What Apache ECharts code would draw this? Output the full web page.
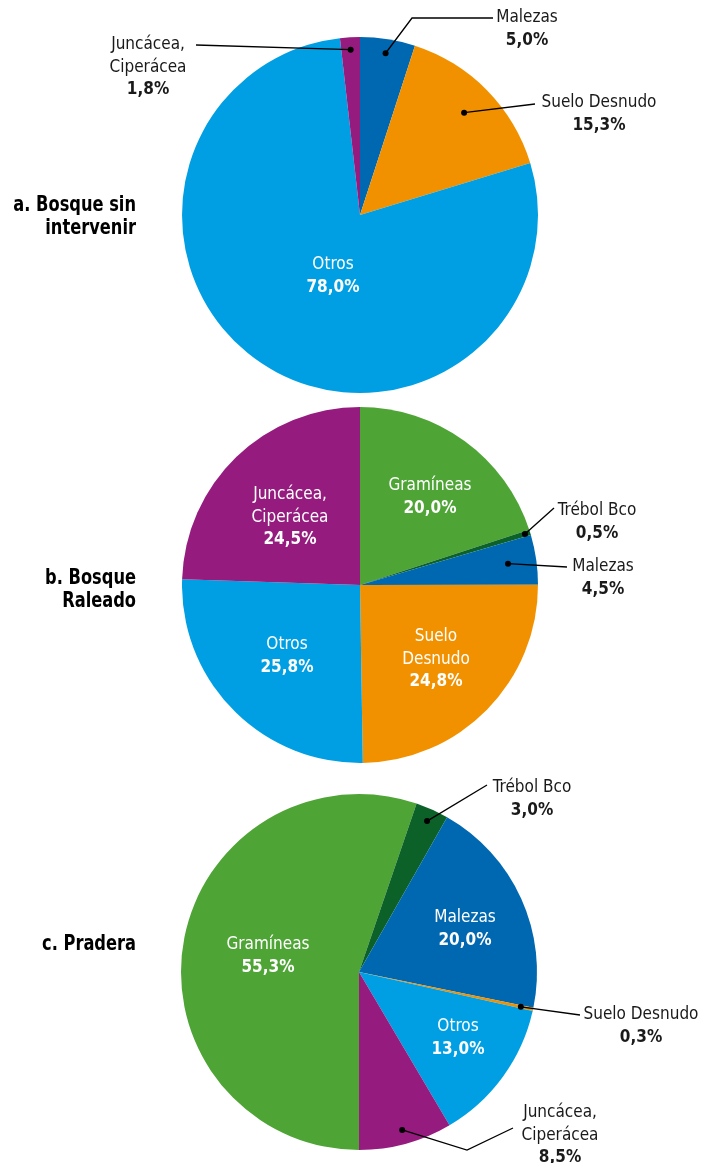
<!DOCTYPE html>
<html><head><meta charset="utf-8">
<script src="https://cdn.jsdelivr.net/npm/echarts@6/dist/echarts.min.js"></script>
<style>html,body{margin:0;padding:0;background:#fff}#c{width:701px;height:1163px}</style>
</head><body><div id="c"></div>
<script>
// ---- data ----
const categories = ['Gramíneas', 'Trébol Bco', 'Malezas', 'Suelo Desnudo', 'Otros', 'Juncácea, Ciperácea'];
const bosqueSinIntervenir = [0, 0, 5.0, 15.3, 78.0, 1.8];
const bosqueRaleado = [20.0, 0.5, 4.5, 24.8, 25.8, 24.5];
const pradera = [55.3, 3.0, 20.0, 0.3, 13.0, 8.5];
const panelTitles = ['a. Bosque sin\nintervenir', 'b. Bosque\nRaleado', 'c. Pradera'];

// ---- styles / layout ----
const colors = ['#4ea435', '#0b6127', '#0067b1', '#f29100', '#009fe3', '#951b7f'];
const FONT = "'DejaVu Sans Condensed', sans-serif";
const R = 178;
const LH = 22.5;

const panels = [
  { values: bosqueSinIntervenir, center: [360, 215], startAngle: 90, titleX: 136, titleY: 217 },
  { values: bosqueRaleado, center: [360, 585], startAngle: 90, titleX: 136, titleY: 590 },
  { values: pradera, center: [359, 972], startAngle: -90, titleX: 136, titleY: 945 }
];

const specs = [
  {
    'Malezas': { x: 527, y: 18, lines: ['Malezas'], rf: 0.92, line: [[412, 18], [493, 18]] },
    'Suelo Desnudo': { x: 599, y: 103, lines: ['Suelo Desnudo'], rf: 0.82, line: [[535, 104]] },
    'Otros': { x: 333, y: 265, lines: ['Otros'], inside: true },
    'Juncácea, Ciperácea': { x: 148, y: 45, lines: ['Juncácea,', 'Ciperácea'], rf: 0.93, line: [[196, 45]] }
  },
  {
    'Gramíneas': { x: 430, y: 486, lines: ['Gramíneas'], inside: true },
    'Trébol Bco': { x: 597, y: 511, lines: ['Trébol Bco'], rf: 0.97, line: [[554, 508]] },
    'Malezas': { x: 603, y: 567, lines: ['Malezas'], rf: 0.84, line: [[567, 567]] },
    'Suelo Desnudo': { x: 436, y: 637, lines: ['Suelo', 'Desnudo'], inside: true },
    'Otros': { x: 287, y: 645, lines: ['Otros'], inside: true },
    'Juncácea, Ciperácea': { x: 290, y: 495, lines: ['Juncácea,', 'Ciperácea'], inside: true }
  },
  {
    'Gramíneas': { x: 268, y: 945, lines: ['Gramíneas'], inside: true },
    'Trébol Bco': { x: 532, y: 788, lines: ['Trébol Bco'], rf: 0.93, line: [[487, 785]] },
    'Malezas': { x: 465, y: 918, lines: ['Malezas'], inside: true },
    'Suelo Desnudo': { x: 641, y: 1015, lines: ['Suelo Desnudo'], rf: 0.93, line: [[580, 1015]] },
    'Otros': { x: 458, y: 1027, lines: ['Otros'], inside: true },
    'Juncácea, Ciperácea': { x: 560, y: 1113, lines: ['Juncácea,', 'Ciperácea'], rf: 0.92, line: [[467, 1150], [513, 1128]] }
  }
];

function fmt(v) { return v.toFixed(1).replace('.', ',') + '%'; }

const rich = {
  n: { fontFamily: FONT, fontSize: 17, lineHeight: LH, color: '#1a1a1a' },
  v: { fontFamily: FONT, fontSize: 17, lineHeight: LH, color: '#1a1a1a', fontWeight: 'bold' },
  nw: { fontFamily: FONT, fontSize: 17, lineHeight: LH, color: '#ffffff' },
  vw: { fontFamily: FONT, fontSize: 17, lineHeight: LH, color: '#ffffff', fontWeight: 'bold' }
};

const series = [], polar = [], angleAxis = [], radiusAxis = [], graphic = [];

panels.forEach((p, pi) => {
  const items = [];
  categories.forEach((c, ci) => { if (p.values[ci] > 0) items.push({ cat: c, ci: ci, value: p.values[ci] }); });
  const total = items.reduce((s, d) => s + d.value, 0);
  let cum = 0;
  items.forEach(d => { d.mid = cum + d.value / 2; cum += d.value; });
  const leaders = [];   // [radiusFraction, midValue, index into leaderPts]
  const leaderPts = [];
  const pieData = items.map(d => {
    const s = specs[pi][d.cat];
    const inside = !!s.inside;
    const cn = inside ? 'nw' : 'n', cv = inside ? 'vw' : 'v';
    const txt = s.lines.map(l => '{' + cn + '|' + l + '}').join('\n') + '\n{' + cv + '|' + fmt(d.value) + '}';
    if (!inside) { leaders.push([s.rf, d.mid, leaderPts.length]); leaderPts.push(s.line); }
    return {
      name: d.cat, value: d.value,
      itemStyle: { color: colors[d.ci] },
      label: { position: inside ? 'inside' : 'outside', formatter: txt },
      labelLine: { show: false }
    };
  });

  series.push({
    type: 'pie',
    center: p.center,
    radius: [0, R],
    startAngle: p.startAngle,
    clockwise: true,
    avoidLabelOverlap: false,
    silent: true,
    data: pieData,
    itemStyle: { borderWidth: 0 },
    label: { show: true, rich: rich },
    labelLine: { show: false },
    labelLayout: function (params) {
      const d = items[params.dataIndex];
      const s = specs[pi][d.cat];
      return { x: s.x, y: s.y - LH / 2, align: 'center', verticalAlign: 'top' };
    },
    z: 2
  });

  polar.push({ center: p.center, radius: [0, R] });
  angleAxis.push({
    polarIndex: pi, type: 'value', min: 0, max: total, startAngle: p.startAngle, clockwise: true,
    axisLine: { show: false }, axisTick: { show: false }, axisLabel: { show: false }, splitLine: { show: false }
  });
  radiusAxis.push({
    polarIndex: pi, type: 'value', min: 0, max: 1,
    axisLine: { show: false }, axisTick: { show: false }, axisLabel: { show: false }, splitLine: { show: false }
  });
  series.push({
    type: 'custom', coordinateSystem: 'polar', polarIndex: pi,
    data: leaders, silent: true, z: 5,
    renderItem: function (params, api) {
      const p0 = api.coord([api.value(0), api.value(1)]);
      const pts = [p0].concat(leaderPts[api.value(2)]);
      return {
        type: 'group',
        children: [
          { type: 'polyline', shape: { points: pts }, style: { stroke: '#000', lineWidth: 1.3, fill: null } },
          { type: 'circle', shape: { cx: p0[0], cy: p0[1], r: 3 }, style: { fill: '#000' } }
        ]
      };
    }
  });

  graphic.push({
    type: 'text', x: p.titleX, y: p.titleY, z: 10, scaleX: 0.86,
    style: {
      text: panelTitles[pi], align: 'right', verticalAlign: 'middle',
      font: 'bold 21px ' + FONT, lineHeight: 23, fill: '#000'
    }
  });
});

const chart = echarts.init(document.getElementById('c'), null, { renderer: 'canvas' });
chart.setOption({
  animation: false,
  backgroundColor: '#ffffff',
  polar: polar,
  angleAxis: angleAxis,
  radiusAxis: radiusAxis,
  graphic: graphic,
  series: series
});
</script></body></html>
